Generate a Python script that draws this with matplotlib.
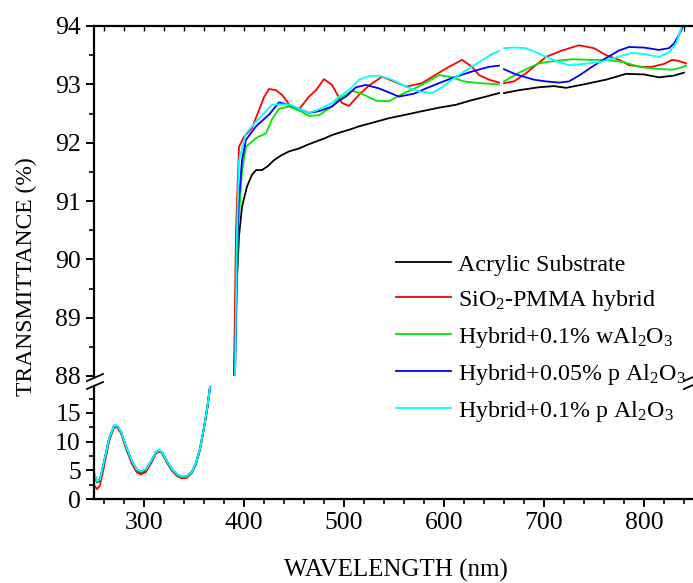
import numpy as np
import matplotlib
matplotlib.use('Agg')
import matplotlib.pyplot as plt
from matplotlib.lines import Line2D
from matplotlib.ticker import MultipleLocator

plt.rcParams['font.family'] = ['Liberation Serif', 'DejaVu Serif']
plt.rcParams['mathtext.default'] = 'regular'

nan = np.nan

# ---- data: lower (UV) part, 250-366 nm ----
wl_low = [250, 253, 256, 260, 265, 270, 273, 277, 282, 288, 293, 297, 302, 307,
          312, 315, 318, 323, 328, 333, 338, 343, 348, 352, 356, 360, 363, 366]
low_black = [4.3, 2.9, 3.2, 6.3, 10.3, 12.6, 12.7, 11.6, 9.0, 6.4, 4.9, 4.6, 5.0, 6.4,
             8.1, 8.4, 8.1, 6.5, 5.1, 4.2, 3.8, 3.9, 4.7, 6.2, 8.7, 12.4, 15.5, 19.5]
low_red = [2.4, 1.7, 2.4, 5.6, 10.0, 12.5, 12.5, 11.5, 8.8, 6.1, 4.6, 4.3, 4.7, 6.2,
           7.9, 8.3, 8.0, 6.3, 4.9, 4.0, 3.6, 3.7, 4.6, 6.1, 8.6, 12.3, 15.4, 19.5]
low_green = [4.4, 3.0, 3.3, 6.4, 10.4, 12.7, 12.7, 11.7, 9.1, 6.5, 5.0, 4.7, 5.1, 6.5,
             8.1, 8.4, 8.1, 6.5, 5.1, 4.2, 3.8, 3.9, 4.7, 6.2, 8.7, 12.4, 15.5, 19.5]
low_blue = [4.5, 3.1, 3.4, 6.5, 10.5, 12.8, 12.8, 11.8, 9.2, 6.6, 5.1, 4.8, 5.2, 6.6,
            8.2, 8.5, 8.2, 6.6, 5.2, 4.3, 3.9, 4.0, 4.8, 6.3, 8.8, 12.5, 15.6, 19.5]
low_cyan = [4.6, 3.1, 3.4, 6.5, 10.5, 12.8, 12.8, 11.8, 9.2, 6.6, 5.1, 4.8, 5.2, 6.6,
            8.2, 8.5, 8.2, 6.6, 5.2, 4.3, 3.9, 4.0, 4.8, 6.3, 8.8, 12.5, 15.6, 19.5]

# ---- data: upper (visible) part ----
wl_black = [390, 392, 395, 398, 403, 408, 412, 418, 424, 430, 437, 445, 455, 463, 472,
            480, 488, 495, 505, 515, 528, 545, 562, 578, 595, 612, 628, 642, 655, nan,
            660, 675, 695, 710, 722, 740, 762, 782, 800, 815, 830, 840]
up_black = [88.0, 89.3, 90.4, 90.9, 91.25, 91.45, 91.53, 91.53, 91.6, 91.7, 91.78, 91.85,
            91.9, 91.96, 92.02, 92.07, 92.13, 92.17, 92.22, 92.28, 92.34, 92.42, 92.48,
            92.54, 92.6, 92.65, 92.73, 92.79, 92.85, nan, 92.85, 92.9, 92.95, 92.97,
            92.94, 93.0, 93.08, 93.18, 93.17, 93.12, 93.15, 93.2]

wl_red = [390, 392, 395, 400, 408, 415, 420, 425, 432, 438, 447, 455, 465, 472, 480, 488,
          498, 505, 515, 525, 538, 550, 562, 578, 595, 605, 618, 628, 635, 645, 655, nan,
          660, 670, 682, 702, 718, 735, 750, 762, 775, 785, 798, 808, 820, 828, 835, 842]
up_red = [88.0, 90.5, 91.93, 92.1, 92.25, 92.56, 92.78, 92.92, 92.9, 92.82, 92.62, 92.57,
          92.79, 92.9, 93.09, 92.99, 92.68, 92.63, 92.82, 92.98, 93.13, 93.05, 92.96, 93.02,
          93.2, 93.3, 93.42, 93.3, 93.16, 93.08, 93.03, nan, 93.02, 93.05, 93.19, 93.47,
          93.58, 93.67, 93.62, 93.5, 93.42, 93.33, 93.3, 93.3, 93.35, 93.42, 93.4, 93.36]

wl_green = [391, 394, 398, 402, 412, 422, 428, 435, 445, 455, 465, 475, 488, 495, 502, 508,
            520, 532, 545, 560, 572, 585, 595, 608, 620, 635, 655, nan, 660, 675, 695, 710,
            728, 745, 762, 780, 795, 810, 828, 836, 842]
up_green = [88.0, 90.5, 91.5, 91.93, 92.08, 92.16, 92.4, 92.58, 92.62, 92.55, 92.46, 92.47,
            92.62, 92.75, 92.82, 92.89, 92.82, 92.72, 92.71, 92.85, 92.94, 93.06, 93.16,
            93.12, 93.05, 93.02, 93.0, nan, 93.05, 93.2, 93.36, 93.4, 93.43, 93.42, 93.42,
            93.38, 93.3, 93.27, 93.25, 93.28, 93.32]

wl_blue = [391, 394, 398, 402, 412, 425, 435, 445, 455, 465, 475, 488, 495, 502, 512, 522,
           535, 555, 570, 582, 595, 610, 628, 645, 655, nan, 660, 672, 690, 702, 715, 725,
           735, 748, 762, 775, 785, 800, 815, 825, 830, 835, 839]
up_blue = [88.0, 90.8, 91.7, 92.05, 92.28, 92.48, 92.69, 92.65, 92.58, 92.51, 92.54, 92.62,
           92.72, 92.79, 92.95, 92.99, 92.93, 92.79, 92.84, 92.93, 93.02, 93.12, 93.22,
           93.3, 93.32, nan, 93.26, 93.17, 93.08, 93.05, 93.03, 93.05, 93.15, 93.3, 93.45,
           93.58, 93.64, 93.63, 93.59, 93.62, 93.7, 93.85, 94.0]

wl_cyan = [391, 393, 395, 402, 412, 428, 445, 455, 465, 472, 488, 495, 505, 515, 525, 535,
           548, 562, 575, 588, 598, 608, 620, 635, 648, 655, nan, 660, 670, 682, 692, 702,
           715, 725, 740, 755, 770, 788, 800, 815, 825, 832, 838]
up_cyan = [88.0, 90.5, 91.7, 92.16, 92.36, 92.65, 92.66, 92.58, 92.51, 92.55, 92.68, 92.79,
           92.9, 93.08, 93.14, 93.15, 93.08, 92.96, 92.88, 92.85, 92.95, 93.08, 93.22,
           93.38, 93.52, 93.57, nan, 93.62, 93.63, 93.62, 93.55, 93.47, 93.38, 93.33, 93.35,
           93.38, 93.45, 93.54, 93.52, 93.47, 93.55, 93.7, 94.0]

labels = ['Acrylic Substrate', 'SiO$_2$-PMMA hybrid', 'Hybrid+0.1% wAl$_2$O$_3$',
          'Hybrid+0.05% p Al$_2$O$_3$', 'Hybrid+0.1% p Al$_2$O$_3$']
colors = ['black', '#ff0000', '#00e600', '#0000ff', '#00ffff']

W, H = 693, 583
fig = plt.figure(figsize=(W / 100, H / 100), dpi=100)

def fx(px):
    return px / W

def fy(py):
    return 1 - py / H

ax_up = fig.add_axes([fx(94), fy(376), 1 - fx(94), (376 - 26) / H])
ax_lo = fig.add_axes([fx(94), fy(499), 1 - fx(94), (499 - 386) / H])
ax_up.set_zorder(3)
ax_up.patch.set_visible(False)

ups = [(wl_black, up_black), (wl_red, up_red), (wl_green, up_green),
       (wl_blue, up_blue), (wl_cyan, up_cyan)]
lows = [low_black, low_red, low_green, low_blue, low_cyan]

for (wl, v), lo, c, lab in zip(ups, lows, colors, labels):
    ax_up.plot(wl, v, color=c, lw=1.3, label=lab)
    ax_lo.plot(wl_low, lo, color=c, lw=1.3)

xmin, xmax = 250, 849
for ax in (ax_up, ax_lo):
    ax.set_xlim(xmin, xmax)
    ax.spines['right'].set_visible(False)
    for s in ax.spines.values():
        s.set_linewidth(1.6)
    ax.xaxis.set_major_locator(MultipleLocator(100))
    ax.xaxis.set_minor_locator(MultipleLocator(20))
    ax.tick_params(labelsize=18.5, width=1.4, length=6, which='major')
    ax.tick_params(width=1.2, length=3.5, which='minor')

# upper panel
ax_up.set_ylim(88, 94)
ax_up.yaxis.set_major_locator(MultipleLocator(1))
ax_up.yaxis.set_minor_locator(MultipleLocator(0.5))
ax_up.spines['bottom'].set_visible(False)
ax_up.tick_params(axis='x', which='both', bottom=False, labelbottom=False,
                  top=True, direction='in')
ax_up.tick_params(axis='x', which='both', length=3.5, width=1.0)
ax_up.tick_params(axis='y', which='both', direction='out', right=False)

# lower panel
ax_lo.set_ylim(0, 19.7)
ax_lo.spines['top'].set_visible(False)
ax_lo.tick_params(axis='both', which='both', direction='out', top=False, right=False)
ax_lo.set_yticks([0, 5, 10, 15])
ax_lo.set_yticks([2.5, 7.5, 12.5, 17.5], minor=True)

# axis break marks
for (x0, x1) in [(87, 103), (684, 700)]:
    fig.add_artist(Line2D([fx(x0), fx(x1)], [fy(381), fy(374)], color='black', lw=1.3))
    fig.add_artist(Line2D([fx(x0), fx(x1)], [fy(389), fy(382)], color='black', lw=1.3))

ax_up.legend(loc='upper left', bbox_to_anchor=(fx(386 - 94) / (1 - fx(94)), 0.376),
             frameon=False, fontsize=17.3, handlelength=2.3, handletextpad=0.3,
             labelspacing=0.5, borderaxespad=0)

fig.text(fx(396), fy(570), 'WAVELENGTH (nm)', ha='center', va='center', fontsize=18)
fig.text(fx(26), fy(277), 'TRANSMITTANCE (%)', ha='center', va='center',
         rotation=90, fontsize=17)

fig.savefig('out.png', dpi=100)
